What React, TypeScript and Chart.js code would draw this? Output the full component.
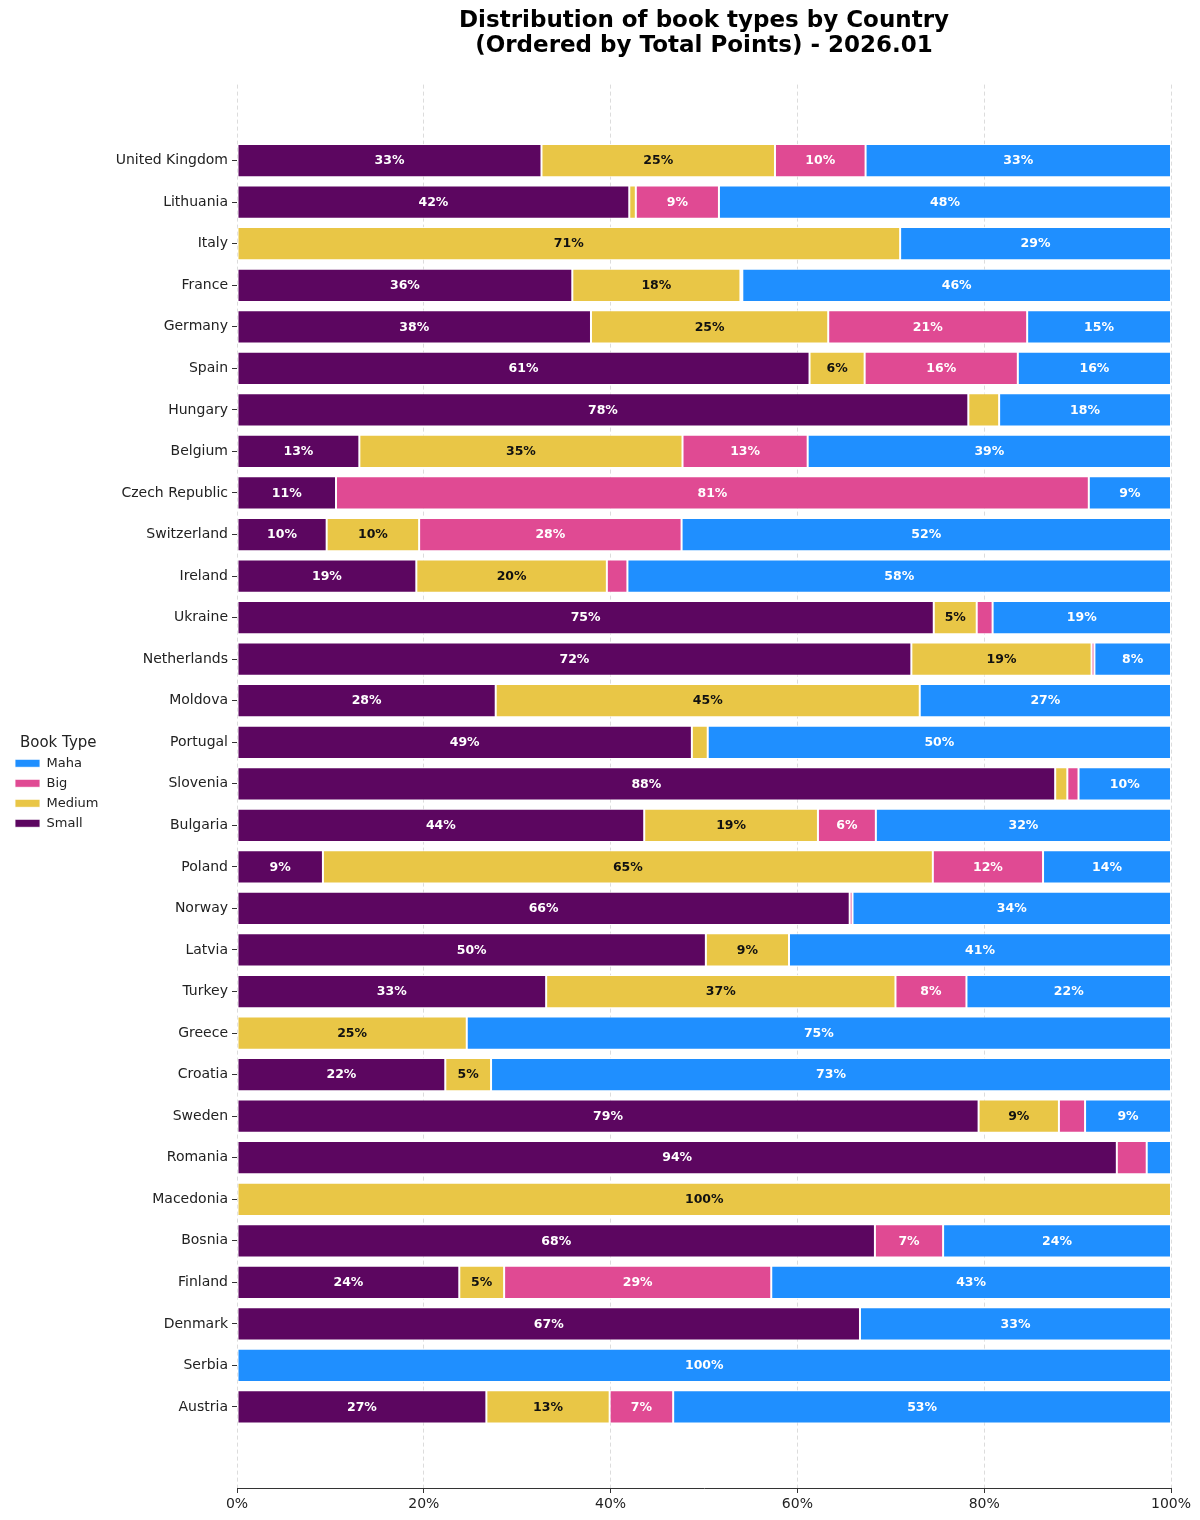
import React, { useEffect, useRef } from "react";
import { Chart, registerables } from "chart.js";

Chart.register(...registerables);

const countries = [
  "United Kingdom", "Lithuania", "Italy", "France", "Germany", "Spain", "Hungary", "Belgium",
  "Czech Republic", "Switzerland", "Ireland", "Ukraine", "Netherlands", "Moldova", "Portugal",
  "Slovenia", "Bulgaria", "Poland", "Norway", "Latvia", "Turkey", "Greece", "Croatia", "Sweden",
  "Romania", "Macedonia", "Bosnia", "Finland", "Denmark", "Serbia", "Austria",
];

const smallPct = [
  32.6, 42.0, 0, 35.9, 37.9, 61.3, 78.3, 13.1, 10.6, 9.6, 19.2, 74.6, 72.2, 27.7, 48.7,
  87.6, 43.6, 9.2, 65.6, 50.2, 33.1, 0, 22.3, 79.4, 94.2, 0, 68.3, 23.8, 66.7, 0, 26.7,
];
const mediumPct = [
  25.0, 0.7, 71.0, 18.0, 25.4, 5.9, 3.3, 34.6, 0, 9.9, 20.4, 4.6, 19.3, 45.4, 1.7,
  1.3, 18.6, 65.3, 0, 8.9, 37.4, 24.6, 4.9, 8.6, 0, 100, 0, 4.8, 0, 0, 13.2,
];
const bigPct = [
  9.7, 8.9, 0, 0.2, 21.3, 16.4, 0, 13.4, 80.6, 28.1, 2.2, 1.7, 0.3, 0, 0,
  1.2, 6.2, 11.8, 0.3, 0, 7.6, 0, 0, 2.8, 3.2, 0, 7.3, 28.6, 0, 0, 6.8,
];
const mahaPct = [
  32.7, 48.4, 29.0, 45.9, 15.4, 16.4, 18.4, 38.9, 8.8, 52.4, 58.2, 19.1, 8.2, 26.9, 49.6,
  9.9, 31.6, 13.7, 34.1, 40.9, 21.9, 75.4, 72.8, 9.2, 2.6, 0, 24.4, 42.8, 33.3, 100, 53.3,
];

const seriesNames = ["Small", "Medium", "Big", "Maha"];
const seriesColors = ["#5c0660", "#e9c646", "#e04a93", "#1f8fff"];
const labelColors = ["#ffffff", "#111111", "#ffffff", "#ffffff"];
const xTickValues = [0, 20, 40, 60, 80, 100];

const titleLines = [
  "Distribution of book types by Country",
  "(Ordered by Total Points) - 2026.01",
];

const FONT = "'DejaVu Sans', 'Liberation Sans', sans-serif";

const segLabels = {
  id: "segLabels",
  afterDatasetsDraw(chart: any) {
    const ctx = chart.ctx;
    ctx.save();
    ctx.font = `bold 12.5px ${FONT}`;
    ctx.textAlign = "center";
    ctx.textBaseline = "middle";
    chart.data.datasets.forEach((ds: any, di: number) => {
      const meta = chart.getDatasetMeta(di);
      meta.data.forEach((el: any, i: number) => {
        const v = ds.data[i].x;
        if (v < 4) return;
        const p = el.getProps(["x", "y", "base"], true);
        ctx.fillStyle = labelColors[di];
        ctx.fillText(Math.round(v) + "%", (p.x + p.base) / 2, p.y + 0.5);
      });
    });
    ctx.restore();
  },
};

const LEFT_PAD = 8;

export default function App() {
  const ref = useRef<HTMLCanvasElement | null>(null);
  useEffect(() => {
    document.body.style.margin = "0";
    Chart.defaults.font.family = FONT;
    const all = [smallPct, mediumPct, bigPct, mahaPct];
    const datasets = all.map((vals, si) => ({
      label: seriesNames[si],
      data: vals.map((v, i) => ({ x: v, y: i })),
      backgroundColor: seriesColors[si],
      borderColor: "rgba(255,255,255,0.85)",
      borderWidth: 1,
      borderSkipped: false,
      barPercentage: 0.8,
      categoryPercentage: 1,
    }));
    const chart = new Chart(ref.current as HTMLCanvasElement, {
      type: "bar",
      data: { datasets } as any,
      plugins: [segLabels],
      options: {
        animation: false,
        responsive: false,
        indexAxis: "y",
        layout: { padding: { top: 4, right: 29, left: LEFT_PAD, bottom: 0 } },
        plugins: {
          tooltip: { enabled: false },
          title: {
            display: true,
            text: titleLines,
            fullSize: false,
            color: "#000",
            font: { size: 23, weight: "bold", lineHeight: 1.1 },
            padding: { top: 4, bottom: 26 },
          },
          legend: {
            position: "left",
            fullSize: false,
            reverse: true,
            title: {
              display: true,
              text: "Book Type",
              color: "#222",
              font: { size: 15 },
              padding: { top: 0, bottom: -4 },
            },
            labels: {
              boxWidth: 25,
              boxHeight: 8,
              padding: 7,
              color: "#222",
              font: { size: 13 },
            },
          },
        },
        scales: {
          x: {
            type: "linear",
            stacked: true,
            min: 0,
            max: 100,
            afterBuildTicks: (scale: any) => {
              scale.ticks = xTickValues.map((v) => ({ value: v }));
            },
            afterFit: (scale: any) => {
              scale.height = 32;
            },
            ticks: {
              color: "#222",
              font: { size: 14 },
              padding: 3,
              callback: (v: any) => v + "%",
            },
            grid: {
              color: "#dcdcdc",
              lineWidth: 1,
              tickLength: 5,
              tickColor: "#333",
              tickBorderDash: [],
            },
            border: { display: true, color: "#333", width: 1, dash: [4, 3] },
          },
          y: {
            type: "linear",
            stacked: true,
            reverse: true,
            offset: false,
            min: -1.83,
            max: 31.95,
            afterBuildTicks: (scale: any) => {
              scale.ticks = countries.map((_, i) => ({ value: i }));
            },
            afterFit: (scale: any) => {
              const lw = scale.chart.legend ? scale.chart.legend.width : 0;
              scale.width = 237 - LEFT_PAD - lw;
            },
            ticks: {
              autoSkip: false,
              color: "#222",
              font: { size: 14 },
              padding: 4,
              callback: (v: any) => countries[v] ?? "",
            },
            grid: {
              display: true,
              offset: false,
              drawOnChartArea: false,
              tickLength: 5,
              tickColor: "#333",
            },
            border: { display: false },
          },
        },
      } as any,
    });
    return () => chart.destroy();
  }, []);
  return (
    <div style={{ width: 1200, height: 1520 }}>
      <canvas ref={ref} width={1200} height={1520} style={{ display: "block" }} />
    </div>
  );
}
